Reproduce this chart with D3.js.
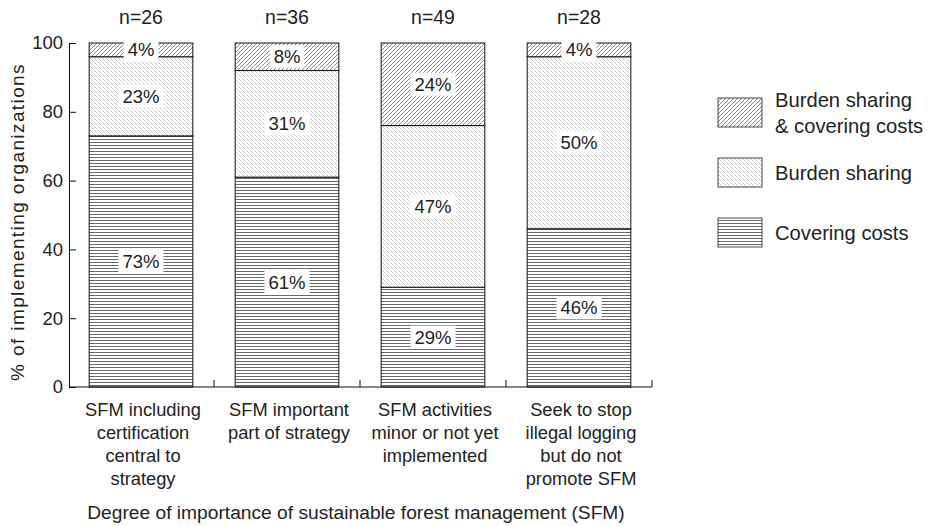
<!DOCTYPE html>
<html>
<head>
<meta charset="utf-8">
<script src="https://cdn.jsdelivr.net/npm/d3@7"></script>
<style>
  html, body { margin: 0; padding: 0; background: #fff; }
  svg { display: block; font-family: "Liberation Sans", Arial, Helvetica, sans-serif; }
</style>
</head>
<body>
<svg id="chart" width="934" height="526"></svg>
<script>
// ---- data ----
const categories = [
  ["SFM including", "certification", "central to", "strategy"],
  ["SFM important", "part of strategy"],
  ["SFM activities", "minor or not yet", "implemented"],
  ["Seek to stop", "illegal logging", "but do not", "promote SFM"]
];
const nCounts = [26, 36, 49, 28];
const coveringCosts = [73, 61, 29, 46];
const burdenSharing = [23, 31, 47, 50];
const burdenAndCovering = [4, 8, 24, 4];
const yTicks = [0, 20, 40, 60, 80, 100];
const legendLabels = [["Burden sharing", "& covering costs"], ["Burden sharing"], ["Covering costs"]];
const yTitle = "% of implementing organizations";
const xTitle = "Degree of importance of sustainable forest management (SFM)";

const svg = d3.select("#chart");
const defs = svg.append("defs");

// patterns
function addPattern(id, size, build) {
  const p = defs.append("pattern").attr("id", id)
    .attr("patternUnits", "userSpaceOnUse")
    .attr("width", size).attr("height", size);
  p.append("rect").attr("width", size).attr("height", size).attr("fill", "#fff");
  build(p, size);
}
addPattern("pHoriz", 3, (p, s) => {
  p.append("line").attr("x1", 0).attr("x2", s).attr("y1", 1.5).attr("y2", 1.5)
    .attr("stroke", "#6a6a6a").attr("stroke-width", 1);
});
addPattern("pBack", 4, (p, s) => {
  p.append("path").attr("d", `M-1,-1 L${s+1},${s+1} M${-s-1},-1 L1,${s+1} M${s-1},-1 L${2*s+1},${s+1}`)
    .attr("stroke", "#8a8a8a").attr("stroke-width", 0.8).attr("stroke-dasharray", "1,1");
});
addPattern("pSlash", 4, (p, s) => {
  p.append("path").attr("d", `M-1,1 l2,-2 M0,${s} l${s},${-s} M${s-1},${s+1} l2,-2`)
    .attr("stroke", "#7a7a7a").attr("stroke-width", 0.9);
});
const fills = ["url(#pHoriz)", "url(#pBack)", "url(#pSlash)"];

// scales
const idx = d3.range(categories.length);
const x = d3.scaleBand().domain(idx).range([68, 652]).paddingInner(0.29).paddingOuter(0.145);
const y = d3.scaleLinear().domain([0, 100]).range([387, 43]);

// stacked data
const rows = idx.map(i => ({ i, c: coveringCosts[i], b: burdenSharing[i], bc: burdenAndCovering[i] }));
const stack = d3.stack().keys(["c", "b", "bc"])(rows);

const gBars = svg.append("g");
stack.forEach((layer, li) => {
  layer.forEach(d => {
    gBars.append("rect")
      .attr("x", x(d.data.i))
      .attr("y", y(d[1]))
      .attr("width", x.bandwidth())
      .attr("height", y(d[0]) - y(d[1]))
      .attr("fill", fills[li])
      .attr("stroke", "#111").attr("stroke-width", 1);
  });
});

// percent labels
stack.forEach((layer, li) => {
  layer.forEach(d => {
    const v = d[1] - d[0];
    const cx = x(d.data.i) + x.bandwidth() / 2;
    const cy = y((d[0] + d[1]) / 2);
    const g = svg.append("g");
    const t = g.append("text").attr("x", cx).attr("y", cy).attr("dy", "0.35em")
      .attr("text-anchor", "middle").attr("font-size", 18.5).attr("fill", "#222")
      .text(v + "%");
    const bb = t.node().getBBox();
    g.insert("rect", "text").attr("x", bb.x - 4).attr("y", bb.y - 1)
      .attr("width", bb.width + 8).attr("height", bb.height + 2).attr("fill", "#fff");
  });
});

// n labels
svg.append("g").selectAll("text").data(idx).join("text")
  .attr("x", i => x(i) + x.bandwidth() / 2).attr("y", 24)
  .attr("text-anchor", "middle").attr("font-size", 19.5).attr("fill", "#222")
  .text(i => "n=" + nCounts[i]);

// y axis
const yAxis = svg.append("g").attr("transform", "translate(69,0)")
  .call(d3.axisLeft(y).tickValues(yTicks).tickSizeInner(-7).tickSizeOuter(0).tickPadding(6));
yAxis.select(".domain").attr("stroke", "#111");
yAxis.selectAll(".tick line").attr("stroke", "#111");
yAxis.selectAll(".tick text").attr("font-size", 18.5).attr("fill", "#222")
  .attr("font-family", "Liberation Sans, Arial, Helvetica, sans-serif");

// x axis
const step = x.step();
const boundaries = idx.map(i => x(i) + x.bandwidth() + step * x.paddingInner() / 2);
const gx = svg.append("g");
gx.append("line").attr("x1", 69).attr("x2", boundaries[boundaries.length - 1])
  .attr("y1", y(0)).attr("y2", y(0)).attr("stroke", "#111").attr("stroke-width", 1.2);
gx.selectAll("line.tk").data(boundaries).join("line").attr("class", "tk")
  .attr("x1", d => d).attr("x2", d => d).attr("y1", y(0)).attr("y2", y(0) - 7)
  .attr("stroke", "#111");

// category labels
idx.forEach(i => {
  const t = svg.append("text").attr("text-anchor", "middle").attr("font-size", 18.3).attr("fill", "#222");
  categories[i].forEach((line, k) => {
    t.append("tspan").attr("x", x(i) + x.bandwidth() / 2 + 2).attr("y", 416 + k * 23).text(line);
  });
});

// titles
svg.append("text").attr("x", 356).attr("y", 519).attr("text-anchor", "middle")
  .attr("font-size", 19.2).attr("fill", "#222").text(xTitle);
svg.append("text").attr("transform", "translate(24,222) rotate(-90)").attr("text-anchor", "middle")
  .attr("font-size", 19).attr("letter-spacing", 1.4).attr("fill", "#222").text(yTitle);

// legend
const legendFills = [fills[2], fills[1], fills[0]];
const legendY = [98, 158, 218];
legendLabels.forEach((lab, k) => {
  svg.append("rect").attr("x", 718).attr("y", legendY[k]).attr("width", 44).attr("height", 29)
    .attr("fill", legendFills[k]).attr("stroke", "#444").attr("stroke-width", 1);
  const t = svg.append("text").attr("font-size", 20.2).attr("fill", "#222");
  const cy = legendY[k] + 15;
  lab.forEach((line, j) => {
    const off = (j - (lab.length - 1) / 2) * 26;
    t.append("tspan").attr("x", 775).attr("y", cy + off).attr("dy", "0.35em").text(line);
  });
});
</script>
</body>
</html>
